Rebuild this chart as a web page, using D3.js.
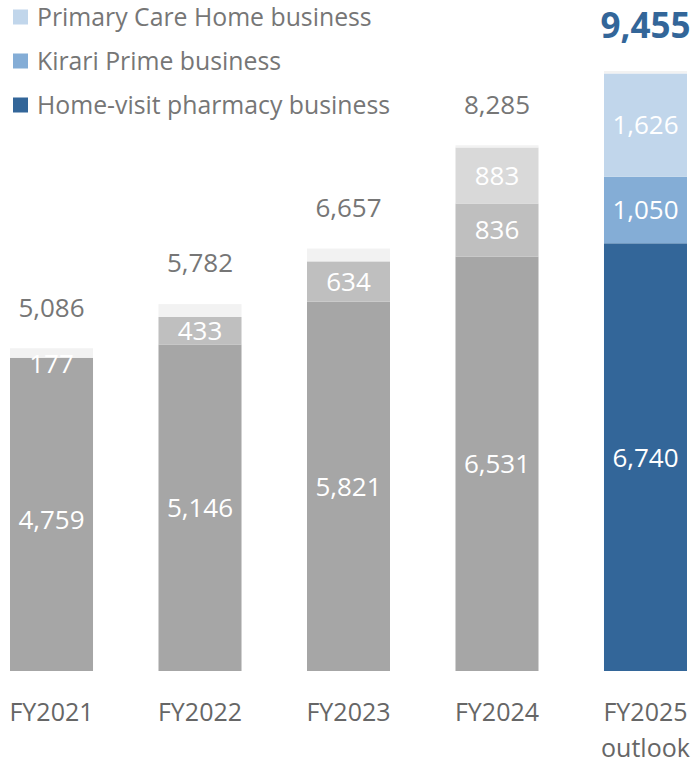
<!DOCTYPE html>
<html><head><meta charset="utf-8">
<script src="https://cdn.jsdelivr.net/npm/d3@7"></script>
<style>
html,body{margin:0;padding:0;background:#fff;}
svg{display:block;font-family:"Open Sans",sans-serif;}
</style></head>
<body><svg id="c" width="694" height="763"></svg>
<script>
const categories = ["FY2021","FY2022","FY2023","FY2024","FY2025 outlook"];
const homeVisit   = [4759,5146,5821,6531,6740];
const kirari      = [177,433,634,836,1050];
const primaryCare = [0,0,0,883,1626];
const other       = [150,203,202,35,39];
const totals      = [5086,5782,6657,8285,9455];
const seriesNames = ["Primary Care Home business","Kirari Prime business","Home-visit pharmacy business"];

const pastColors = {home:"#a6a6a6", kirari:"#bfbfbf", pc:"#d9d9d9", other:"#f2f2f2"};
const outColors  = {home:"#336699", kirari:"#84add6", pc:"#c1d6eb", other:"#f2f2f2"};
const legendColors = ["#c1d6eb","#84add6","#336699"];

const svg = d3.select("#c");
const x = d3.scaleBand().domain(categories).range([10,687]).paddingInner(0.441).paddingOuter(0);
const y = d3.scaleLinear().domain([0,9455]).range([671,71]);

const rows = categories.map((c,i)=>({cat:c,i,home:homeVisit[i],kirari:kirari[i],pc:primaryCare[i],other:other[i],total:totals[i]}));
const keys = ["home","kirari","pc","other"];
const stack = d3.stack().keys(keys)(rows);

function colorFor(key,i){
  if(i===4) return outColors[key];
  if(i===0 && key==="kirari") return pastColors.home;
  return pastColors[key];
}

stack.forEach(layer=>{
  svg.append("g").selectAll("rect").data(layer).join("rect")
    .attr("x",d=>x(d.data.cat))
    .attr("width",x.bandwidth())
    .attr("y",d=>y(d[1]))
    .attr("height",d=>y(d[0])-y(d[1]))
    .attr("fill",d=>colorFor(layer.key,d.data.i));
});

// inner labels
const fmt = d3.format(",");
stack.filter(l=>l.key!=="other").forEach(layer=>{
  svg.append("g").selectAll("text").data(layer.filter(d=>d[1]-d[0]>0)).join("text")
    .attr("x",d=>x(d.data.cat)+x.bandwidth()/2)
    .attr("y",d=>(y(d[0])+y(d[1]))/2)
    .attr("dy","0.36em")
    .attr("text-anchor","middle")
    .attr("fill","#fff")
    .attr("font-size",26)
    .text(d=>fmt(d[1]-d[0]));
});

// totals
svg.append("g").selectAll("text").data(rows).join("text")
  .attr("x",d=>x(d.cat)+x.bandwidth()/2)
  .attr("y",d=>y(d.total)-(d.i===4?46:41))
  .attr("dy","0.36em")
  .attr("text-anchor","middle")
  .attr("fill",d=>d.i===4?"#336699":"#767676")
  .attr("font-size",d=>d.i===4?35:26)
  .attr("font-weight",d=>d.i===4?700:400)
  .text(d=>fmt(d.total));

// x axis labels
const xl = svg.append("g").selectAll("text").data(categories).join("text")
  .attr("x",d=>x(d)+x.bandwidth()/2)
  .attr("y",712)
  .attr("dy","0.36em")
  .attr("text-anchor","middle")
  .attr("fill","#666")
  .attr("font-size",25);
xl.each(function(d){
  const parts = d.split(" ");
  const t = d3.select(this);
  parts.forEach((p,k)=>t.append("tspan").attr("x",x(d)+x.bandwidth()/2).attr("dy",k===0?"0.36em":"1.45em").text(p));
});

// legend
const lg = svg.append("g").selectAll("g").data(seriesNames).join("g")
  .attr("transform",(d,i)=>`translate(13,${17+i*44})`);
lg.append("rect").attr("x",0).attr("y",-7.5).attr("width",15).attr("height",15).attr("fill",(d,i)=>legendColors[i]);
lg.append("text").attr("x",24).attr("y",0).attr("dy","0.36em").attr("fill","#767676").attr("font-size",24.8).text(d=>d);
</script></body></html>
